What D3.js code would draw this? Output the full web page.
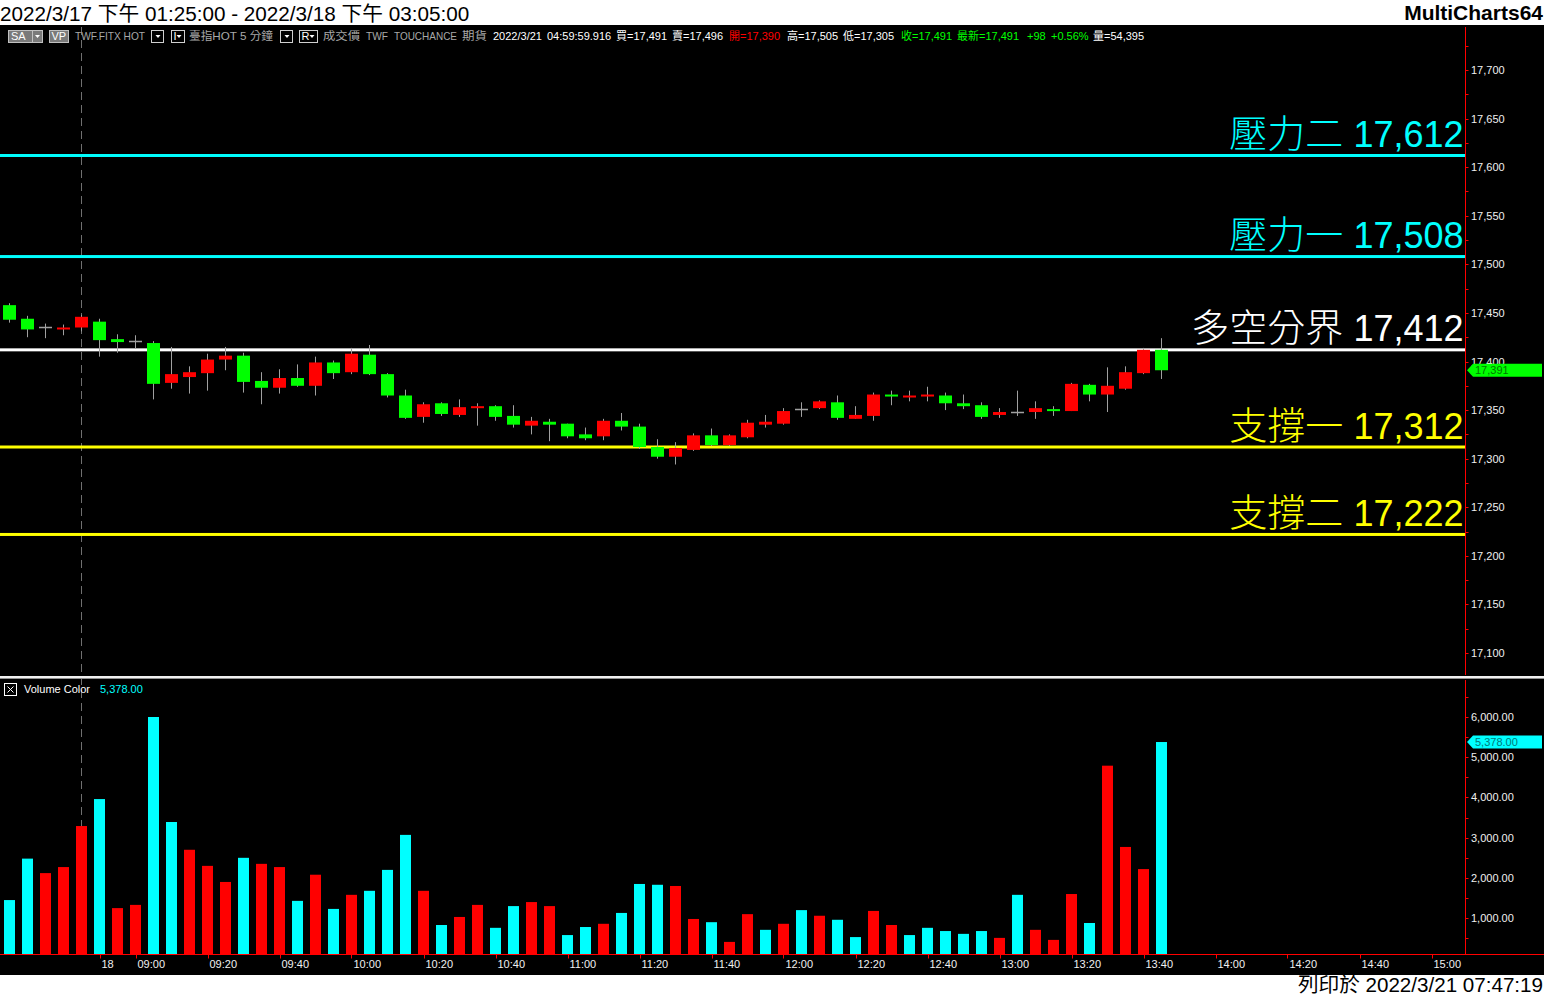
<!DOCTYPE html>
<html><head><meta charset="utf-8">
<script src="https://cdn.jsdelivr.net/npm/d3@7"></script>
<style>body{margin:0;background:#000;overflow:hidden}svg{display:block}</style>
</head><body><svg id="c" width="1544" height="995"></svg>
<script>
// ---------------- DATA ----------------
const times = ["04:40","04:45","04:50","04:55","05:00",
"08:50","08:55","09:00","09:05","09:10","09:15","09:20","09:25","09:30","09:35","09:40","09:45","09:50","09:55",
"10:00","10:05","10:10","10:15","10:20","10:25","10:30","10:35","10:40","10:45","10:50","10:55",
"11:00","11:05","11:10","11:15","11:20","11:25","11:30","11:35","11:40","11:45","11:50","11:55",
"12:00","12:05","12:10","12:15","12:20","12:25","12:30","12:35","12:40","12:45","12:50","12:55",
"13:00","13:05","13:10","13:15","13:20","13:25","13:30","13:35","13:40","13:45"];
const opens  = [17458,17444,17435,17433,17435,17441,17423,17421,17419,17378,17384,17388,17402,17406,17380,17373,17383,17375,17399,17389,17407,17387,17365,17343,17357,17345,17352,17354,17344,17334,17338,17336,17325,17323,17339,17333,17312,17302,17309,17324,17314,17322,17335,17336,17351,17352,17358,17341,17344,17366,17363,17364,17365,17357,17355,17345,17348,17348,17351,17349,17376,17366,17372,17388,17412];
const highs  = [17460,17447,17439,17438,17448,17444,17428,17427,17421,17415,17395,17408,17415,17409,17389,17392,17397,17405,17401,17414,17417,17388,17371,17358,17358,17361,17357,17355,17355,17343,17341,17336,17332,17341,17347,17336,17320,17317,17326,17331,17325,17340,17345,17352,17358,17360,17365,17354,17368,17370,17370,17374,17368,17366,17358,17352,17370,17359,17354,17378,17377,17394,17395,17414,17424];
const lows   = [17440,17425,17424,17427,17431,17405,17409,17413,17361,17372,17367,17370,17391,17368,17356,17367,17374,17365,17382,17387,17386,17363,17341,17337,17344,17343,17334,17339,17332,17325,17318,17321,17319,17319,17329,17310,17300,17294,17308,17313,17313,17321,17332,17335,17343,17351,17340,17341,17339,17355,17359,17359,17350,17351,17341,17342,17344,17341,17344,17349,17359,17348,17371,17387,17382];
const closes = [17443,17433,17435,17435,17446,17422,17420,17421,17377,17387,17389,17402,17406,17379,17373,17383,17375,17399,17388,17408,17387,17365,17342,17356,17346,17353,17354,17343,17335,17339,17335,17323,17321,17339,17333,17312,17302,17311,17324,17314,17324,17337,17338,17349,17351,17359,17342,17345,17366,17364,17365,17366,17357,17354,17343,17348,17348,17352,17349,17377,17366,17375,17389,17412,17391];
const volumes = [1450,2480,2120,2270,3290,3960,1250,1330,6000,3390,2700,2300,1900,2500,2350,2270,1430,2080,1230,1580,1680,2200,3070,1680,830,1030,1330,760,1300,1400,1300,580,780,860,1130,1850,1830,1800,980,900,410,1100,710,860,1200,1060,960,530,1180,830,580,760,680,610,680,510,1580,710,460,1600,880,4790,2770,2220,5378];
const volumeUp = [0,0,1,1,1,0,1,1,0,0,1,1,1,0,1,1,0,1,0,1,0,0,0,1,0,1,1,0,0,1,1,0,0,1,0,0,0,1,1,0,1,1,0,1,0,1,0,0,1,1,0,0,0,0,0,1,0,1,1,1,0,1,1,1,0];
const levelNames  = ["壓力二","壓力一","多空分界","支撐一","支撐二"];
const levelValues = [17612,17508,17412,17312,17222];
const priceTicks = [17100,17150,17200,17250,17300,17350,17400,17450,17500,17550,17600,17650,17700];
const volumeTicks = [1000,2000,3000,4000,5000,6000];
const timeTickSlots  = [5,7,11,15,19,23,27,31,35,39,43,47,51,55,59,63,67,71,75,79];
const timeTickLabels = ["18","09:00","09:20","09:40","10:00","10:20","10:40","11:00","11:20","11:40","12:00","12:20","12:40","13:00","13:20","13:40","14:00","14:20","14:40","15:00"];
const sessionBreakSlot = 4;
const lastPrice = 17391, lastVolume = 5378;
const titleText = "2022/3/17 下午 01:25:00 - 2022/3/18 下午 03:05:00";
const footerText = "列印於 2022/3/21 07:47:19";

// ---------------- LAYOUT ----------------
const W = 1544, H = 995;
const axisX = 1465.5;
const priceTop = 25, priceBottom = 675;
const volTop = 680, volBase = 954.5;
const svg = d3.select("#c");
const FONT = "'Liberation Sans', Arial, 'Noto Sans CJK TC', sans-serif";
const CJK = "'Noto Sans CJK TC', sans-serif";

const x = d3.scaleLinear().domain([0, 80]).range([9.5, 9.5 + 18 * 80]);
const y = d3.scaleLinear().domain([17100, 17700]).range([653, 70]);
const yv = d3.scaleLinear().domain([0, 6000]).range([958.4, 717]);

svg.append("rect").attr("width", W).attr("height", H).attr("fill", "#000");
// title bar
svg.append("rect").attr("x",0).attr("y",0).attr("width",W).attr("height",priceTop).attr("fill","#fff");
svg.append("text").attr("x",0).attr("y",21).attr("font-family",FONT).attr("font-size",20.7).attr("fill","#000").text(titleText);
svg.append("text").attr("x",W-1).attr("y",20).attr("text-anchor","end").attr("font-family",FONT).attr("font-weight","bold").attr("font-size",21).attr("fill","#000").text("MultiCharts64");
// footer
svg.append("rect").attr("x",0).attr("y",975).attr("width",W).attr("height",H-975).attr("fill","#fff");
svg.append("text").attr("x",W-1).attr("y",992).attr("text-anchor","end").attr("font-family",FONT).attr("font-size",20.6).attr("fill","#000").text(footerText);

// session break dashed line
svg.append("line").attr("x1",x(sessionBreakSlot)).attr("x2",x(sessionBreakSlot)).attr("y1",priceTop+2).attr("y2",volBase)
  .attr("stroke","#707070").attr("stroke-dasharray","8,5");

// info bar
const info = svg.append("g").attr("font-family",FONT).attr("font-size",11);
info.append("rect").attr("x",8.5).attr("y",30.5).attr("width",24).attr("height",12).attr("fill","#7a7a7a").attr("stroke","#c0c0c0");
info.append("text").attr("x",11).attr("y",40).attr("fill","#fff").text("SA");
info.append("rect").attr("x",32.5).attr("y",30.5).attr("width",10).attr("height",12).attr("fill","#7a7a7a").attr("stroke","#c0c0c0");
info.append("path").attr("d","M35,35 L40,35 L37.5,38 Z").attr("fill","#fff");
info.append("rect").attr("x",49.5).attr("y",30.5).attr("width",19).attr("height",12).attr("fill","#7a7a7a").attr("stroke","#c0c0c0");
info.append("text").attr("x",51.5).attr("y",40).attr("fill","#fff").text("VP");
function dd(gx, w, label){
  info.append("rect").attr("x",gx).attr("y",30.5).attr("width",w).attr("height",12).attr("fill","#000").attr("stroke","#d0d0d0");
  if(label) info.append("text").attr("x",gx+2).attr("y",40).attr("fill","#fff").text(label);
  const ax = gx + w - 5.5;
  info.append("path").attr("d",`M${ax-2.5},35 L${ax+2.5},35 L${ax},38 Z`).attr("fill","#fff");
}
dd(151.5,12,null); dd(171.5,13,"I"); dd(280.5,12,null); dd(299.5,18,"R");
const segs = [["TWF.FITX HOT","#a8a8a8",75,70],["臺指HOT  5 分鐘","#a8a8a8",189,84],
 ["成交價","#a8a8a8",323,37],["TWF","#a8a8a8",366,22],["TOUCHANCE","#a8a8a8",394,63],["期貨","#a8a8a8",462,25],
 ["2022/3/21","#fff",493,0],["04:59:59.916","#fff",547,0],["買=17,491","#fff",616,0],["賣=17,496","#fff",672,0],
 ["開=17,390","#ff0000",729,0],["高=17,505","#fff",787,0],["低=17,305","#fff",843,0],["收=17,491","#00ff00",901,0],
 ["最新=17,491","#00ff00",957,0],["+98","#00ff00",1027,0],["+0.56%","#00ff00",1051,0],["量=54,395","#fff",1093,0]];
segs.forEach(s=>{
  const t = info.append("text").attr("x",s[2]).attr("y",40).attr("fill",s[1]).text(s[0]);
  if (s[3]) t.attr("textLength",s[3]).attr("lengthAdjust","spacingAndGlyphs");
});

// ---------------- PRICE PANEL ----------------
const pc = svg.append("g");
const levelColor = ["#00ffff","#00ffff","#ffffff","#ffff00","#ffff00"];
levelValues.forEach((v,i)=>{
  pc.append("rect").attr("x",0).attr("y",y(v)-1.5).attr("width",axisX).attr("height",3).attr("fill",levelColor[i]);
});
// candles
const cg = pc.append("g");
opens.forEach((o,i)=>{
  const c = closes[i], cx = x(i);
  cg.append("line").attr("x1",cx).attr("x2",cx).attr("y1",y(highs[i])).attr("y2",y(lows[i])).attr("stroke","#a0a0a0").attr("stroke-width",1);
  if (o === c) {
    cg.append("line").attr("x1",cx-6.5).attr("x2",cx+6.5).attr("y1",Math.round(y(o))+0.5).attr("y2",Math.round(y(o))+0.5).attr("stroke","#a0a0a0").attr("stroke-width",1.5);
  } else {
    const top = y(Math.max(o,c)), bot = y(Math.min(o,c));
    cg.append("rect").attr("x",cx-6.5).attr("width",13).attr("y",top).attr("height",Math.max(2,bot-top))
      .attr("fill", c > o ? "#ff0000" : "#00ff00");
  }
});
// level labels
levelValues.forEach((v,i)=>{
  const t = pc.append("text").attr("x",axisX-2).attr("y",y(v)-8.5).attr("text-anchor","end")
    .attr("font-family",FONT).attr("font-size",36).attr("fill",levelColor[i]);
  t.append("tspan").attr("font-family",CJK).attr("font-size",38).attr("font-weight",300).text(levelNames[i]);
  t.append("tspan").text("\u00a0" + d3.format(",")(v));
});
// price axis
svg.append("line").attr("x1",axisX).attr("x2",axisX).attr("y1",priceTop+2).attr("y2",priceBottom).attr("stroke","#ff0000");
const pa = svg.append("g").attr("font-family",FONT).attr("font-size",11).attr("fill","#f0f0f0");
d3.range(17100, 17726, 25).forEach(v=>{
  pa.append("line").attr("x1",axisX).attr("x2",axisX+3).attr("y1",Math.round(y(v))+0.5).attr("y2",Math.round(y(v))+0.5).attr("stroke","#ff0000");
});
priceTicks.forEach(v=>{
  pa.append("text").attr("x",1471).attr("y",y(v)+4).text(d3.format(",")(v));
});
// last price marker (drawn over the axis label, as in the original)
const lp = y(lastPrice);
svg.append("path").attr("d",`M1467,${lp} L1473,${lp-6.5} L1542,${lp-6.5} L1542,${lp+6.5} L1473,${lp+6.5} Z`).attr("fill","#00ff00");
svg.append("text").attr("x",1475).attr("y",lp+4).attr("font-family",FONT).attr("font-size",11).attr("fill","#007a00").text(d3.format(",")(lastPrice));

// separator
svg.append("rect").attr("x",0).attr("y",676).attr("width",W).attr("height",2).attr("fill","#f0f0f0");
svg.append("rect").attr("x",0).attr("y",678).attr("width",W).attr("height",1).attr("fill","#909090");

// ---------------- VOLUME PANEL ----------------
const vg = svg.append("g");
volumes.forEach((v,i)=>{
  vg.append("rect").attr("x",x(i)-5.5).attr("width",11).attr("y",yv(v)).attr("height",volBase-yv(v))
    .attr("fill", volumeUp[i] ? "#ff0000" : "#00ffff");
});
svg.append("rect").attr("x",4.5).attr("y",683.5).attr("width",12).attr("height",12).attr("fill","none").attr("stroke","#fff");
svg.append("path").attr("d","M7.5,686.5 L13.5,692.5 M13.5,686.5 L7.5,692.5").attr("stroke","#fff");
svg.append("text").attr("x",24).attr("y",693).attr("font-family",FONT).attr("font-size",11).attr("fill","#fff").text("Volume Color");
svg.append("text").attr("x",100).attr("y",693).attr("font-family",FONT).attr("font-size",11).attr("fill","#00ffff").text(d3.format(",.2f")(lastVolume));
svg.append("line").attr("x1",axisX).attr("x2",axisX).attr("y1",volTop).attr("y2",volBase).attr("stroke","#ff0000");
svg.append("line").attr("x1",0).attr("x2",W).attr("y1",volBase).attr("y2",volBase).attr("stroke","#ff0000");
const va = svg.append("g").attr("font-family",FONT).attr("font-size",11).attr("fill","#f0f0f0");
d3.range(500, 6501, 500).forEach(v=>{
  va.append("line").attr("x1",axisX).attr("x2",axisX+3).attr("y1",Math.round(yv(v))+0.5).attr("y2",Math.round(yv(v))+0.5).attr("stroke","#ff0000");
});
volumeTicks.forEach(v=>{
  va.append("text").attr("x",1471).attr("y",yv(v)+4).text(d3.format(",.2f")(v));
});
const lv = yv(lastVolume);
svg.append("path").attr("d",`M1467,${lv} L1473,${lv-6.5} L1542,${lv-6.5} L1542,${lv+6.5} L1473,${lv+6.5} Z`).attr("fill","#00ffff");
svg.append("text").attr("x",1475).attr("y",lv+4).attr("font-family",FONT).attr("font-size",11).attr("fill","#007a7a").text(d3.format(",.2f")(lastVolume));
// time axis
const ta = svg.append("g").attr("font-family",FONT).attr("font-size",11).attr("fill","#f0f0f0");
timeTickSlots.forEach((s,i)=>{
  ta.append("line").attr("x1",Math.round(x(s))+0.5).attr("x2",Math.round(x(s))+0.5).attr("y1",volBase).attr("y2",volBase+4).attr("stroke","#ff0000");
  ta.append("text").attr("x",x(s)+2).attr("y",968).text(timeTickLabels[i]);
});
</script></body></html>
